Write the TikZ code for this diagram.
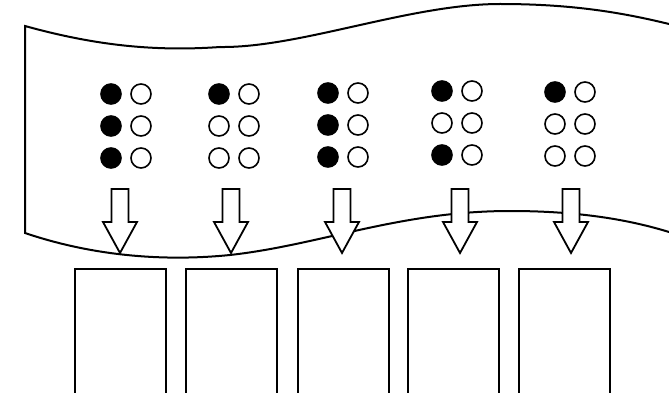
\documentclass[tikz,border=0pt]{standalone}
\tikzset{
  band/.style={line width=2pt},
  blockarrow/.style={line width=1.8pt, fill=white, line join=miter},
  brailledot/.style={line width=1.6pt},
  letterbox/.style={draw, line width=2pt, minimum width=91pt, minimum height=132pt, inner sep=0pt}
}
\begin{document}
\begin{tikzpicture}[x=1pt,y=-1pt]
    \useasboundingbox (0,0) rectangle (669,393);
    % strip of paper
    \draw[band] (669,24) .. controls (620,12) and (570,4) .. (500,4)
        .. controls (410,4) and (300,48) .. (220,47)
        .. controls (150,52) and (90,44) .. (25,26)
        -- (25,233)
        .. controls (90,255) and (160,262) .. (230,255)
        .. controls (320,245) and (400,211) .. (510,211)
        .. controls (580,211) and (630,220) .. (669,232);
    % braille cells
    \foreach \cx/\cy/\da/\db/\dc in {111/94/100/100/100, 219/94/100/0/0, 328/93/100/100/100, 442/91/100/0/100, 555/92/100/0/0} {
        \draw[brailledot, fill=black!\da] (\cx,\cy) circle (10);
        \draw[brailledot, fill=black!\db] (\cx,\cy+32) circle (10);
        \draw[brailledot, fill=black!\dc] (\cx,\cy+64) circle (10);
        \foreach \r in {0,1,2} {
            \draw[brailledot] (\cx+30,\cy+32*\r) circle (10);
        }
    }
    % arrows
    \foreach \ax in {120,231,342,460,571} {
        \draw[blockarrow] ({\ax-8.5},189) -- ({\ax+8.5},189) -- ({\ax+8.5},222) -- ({\ax+17},222)
            -- (\ax,253) -- ({\ax-17},222) -- ({\ax-8.5},222) -- cycle;
    }
    % boxes
    \foreach \bx [count=\i] in {74,185,297,407,518} {
        \node[letterbox, anchor=north west] (box\i) at (\bx,268) {};
    }
\end{tikzpicture}
\end{document}
